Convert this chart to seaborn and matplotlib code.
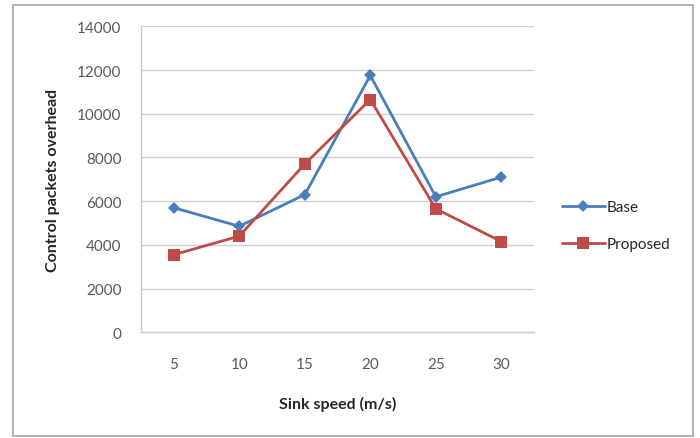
import matplotlib
matplotlib.use("Agg")
import matplotlib.pyplot as plt
import seaborn as sns
import pandas as pd
from matplotlib.patches import Rectangle
from matplotlib.lines import Line2D

speeds = [5, 10, 15, 20, 25, 30]
base = [5700, 4850, 6300, 11750, 6200, 7100]
proposed = [3550, 4400, 7700, 10650, 5650, 4150]
series_names = ["Base", "Proposed"]
y_ticks = [0, 2000, 4000, 6000, 8000, 10000, 12000, 14000]

df = pd.DataFrame({
    "speed": speeds * 2,
    "value": base + proposed,
    "series": [series_names[0]] * len(speeds) + [series_names[1]] * len(speeds),
})

sns.set_style("white")
plt.rcParams["font.family"] = ["Lato", "DejaVu Sans"]

fig = plt.figure(figsize=(7, 4.39), dpi=100)
ax = fig.add_axes([0.2014, 0.2408, 0.5616, 0.697])

palette = {"Base": "#4A7EBB", "Proposed": "#BE4B48"}
markers = {"Base": "D", "Proposed": "s"}
msize = {"Base": 6.5, "Proposed": 8.5}
sns.lineplot(data=df, x="speed", y="value", hue="series", style="series",
             palette=palette, markers=markers, dashes=False, linewidth=2.0,
             markersize=7, markeredgewidth=0, ax=ax, legend=False)
for line in ax.lines:
    if line.get_marker() == "s":
        line.set_markersize(msize["Proposed"])
    else:
        line.set_markersize(msize["Base"])

ax.set_xlim(2.5, 32.5)
ax.set_ylim(0, 14000)
ax.set_xticks(speeds)
ax.set_xticklabels([str(s) for s in speeds])
ax.set_yticks(y_ticks)
ax.set_yticklabels([str(v) for v in y_ticks])
ax.yaxis.grid(True, color="#d0d0d0", linewidth=1.0)
ax.set_axisbelow(True)
for side in ["top", "right"]:
    ax.spines[side].set_visible(False)
for side in ["left", "bottom"]:
    ax.spines[side].set_color("#c8c8c8")
    ax.spines[side].set_linewidth(1.0)
ax.tick_params(axis="y", length=6, color="#c8c8c8", width=1.0, labelsize=11,
               labelcolor="#595959", pad=8)
ax.tick_params(axis="x", length=0, labelsize=11, labelcolor="#595959", pad=18)

ax.set_xlabel("Sink speed (m/s)", fontsize=11.5, fontweight="bold", color="#262626", labelpad=18)
ax.set_ylabel("Control packets overhead", fontsize=11.5, fontweight="bold", color="#262626", labelpad=12)

handles = [Line2D([], [], color=palette[n], marker=markers[n], linewidth=2.0,
                  markersize=msize[n], markeredgewidth=0) for n in series_names]
fig.legend(handles, series_names, loc="center left", bbox_to_anchor=(0.783, 0.484),
           frameon=False, fontsize=11, labelcolor="#262626", handlelength=2.8,
           handletextpad=0.1, labelspacing=1.5)

fig.patches.append(Rectangle((13 / 700, 2 / 439), (693 - 13) / 700, (433 - 2) / 439,
                             transform=fig.transFigure, fill=False,
                             edgecolor="#a6a6a6", linewidth=1.2))

fig.savefig("out.png", dpi=100, facecolor="white")
